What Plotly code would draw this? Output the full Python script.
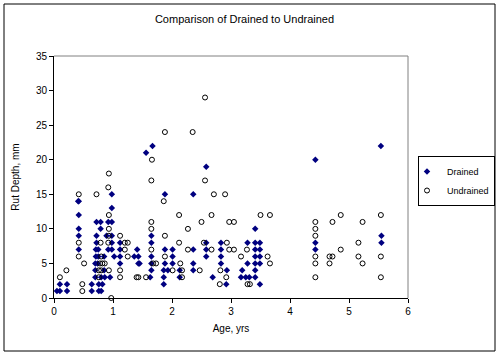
import plotly.graph_objects as go

# ---- data ----
drained_age = [0.05, 0.1, 0.1, 0.22, 0.22,
               0.42, 0.41, 0.42, 0.42, 0.42, 0.42,
               0.64, 0.64,
               0.70, 0.70, 0.70, 0.71, 0.71, 0.72, 0.72, 0.72,
               0.74, 0.75, 0.75, 0.76, 0.76, 0.79, 0.79,
               0.80, 0.80, 0.82, 0.85, 0.85, 0.86,
               0.89, 0.92, 0.92,
               0.98, 0.98, 0.98, 0.98, 0.98, 0.98, 0.95,
               1.02,
               1.12, 1.12, 1.12, 1.12,
               1.36, 1.41, 1.43, 1.43, 1.45,
               1.56, 1.67,
               1.63, 1.65, 1.65, 1.65, 1.65, 1.65,
               1.86, 1.86, 1.86, 1.88, 1.88, 1.88, 1.93,
               2.01, 2.01, 2.01,
               2.13, 2.13,
               2.36, 2.36, 2.36, 2.36,
               2.58, 2.58, 2.58, 2.58,
               2.69,
               2.83, 2.83, 2.83, 2.83,
               2.92, 2.93,
               3.17, 3.19, 3.25, 3.28, 3.28, 3.31,
               3.41, 3.41, 3.41, 3.41, 3.41, 3.41, 3.41,
               3.49, 3.49, 3.49, 3.49, 3.49,
               4.43, 4.43, 4.43,
               5.54, 5.55, 5.55]
drained_rut = [1, 1, 2, 1, 2,
               14, 14, 12, 10, 9, 7,
               1, 2,
               3, 4, 5, 6, 7, 8, 9, 11,
               5, 6, 7, 1, 2, 10, 11,
               3, 1, 2, 4, 6, 3,
               9, 7, 11,
               15, 13, 11, 9, 8, 7, 3,
               6,
               8, 7, 6, 5,
               6, 7, 6, 5, 5,
               21, 22,
               3, 4, 5, 6, 8, 9,
               2, 3, 4, 5, 7, 15, 4,
               5, 6, 7,
               3, 4,
               15, 4, 5, 7,
               19, 6, 7, 8,
               3,
               5, 6, 7, 8,
               2, 4,
               3, 4, 3, 5, 8, 3,
               3, 4, 5, 6, 7, 8, 10,
               2, 5, 6, 7, 8,
               20, 8, 7,
               22, 9, 8]

undrained_age = [0.1, 0.21, 0.42, 0.42, 0.42, 0.48, 0.48, 0.51,
                 0.72, 0.76, 0.76, 0.78, 0.79, 0.80, 0.80, 0.82, 0.86,
                 0.92, 0.93, 0.93, 0.93, 0.93, 0.92, 0.93, 0.97,
                 1.12, 1.20, 1.25, 1.20, 1.25, 1.12, 1.12,
                 1.40, 1.43, 1.56,
                 1.66, 1.65, 1.65, 1.65, 1.65, 1.68, 1.73,
                 1.86, 1.88, 1.88, 1.88,
                 2.12, 2.12, 2.14, 2.01, 2.17, 2.17,
                 2.27, 2.27, 2.35, 2.47, 2.50, 2.54,
                 2.56, 2.56, 2.67, 2.67, 2.71,
                 2.81, 2.82, 2.90, 2.92, 2.93, 2.97, 2.97, 3.05, 3.05,
                 3.17, 3.27, 3.28, 3.32, 3.50, 3.62, 3.66, 3.66,
                 4.43, 4.43, 4.43, 4.43, 4.43, 4.43, 4.67, 4.72, 4.67, 4.72,
                 4.86, 4.86, 5.16, 5.16, 5.23, 5.23, 5.54, 5.54, 5.54]
undrained_rut = [3, 4, 15, 8, 6, 1, 2, 5,
                 15, 3, 4, 5, 8, 4, 6, 5, 5,
                 16, 18, 12, 10, 9, 8, 4, 0,
                 9, 8, 8, 7, 6, 4, 3,
                 3, 3, 3,
                 20, 17, 11, 10, 7, 5, 5,
                 14, 24, 9, 6,
                 12, 8, 5, 4, 4, 3,
                 10, 7, 24, 4, 11, 8,
                 29, 17, 12, 7, 15,
                 2, 4, 15, 3, 8, 11, 7, 11, 7,
                 6, 7, 2, 2, 12, 6, 12, 5,
                 11, 10, 9, 6, 5, 3, 6, 6, 5, 11,
                 12, 7, 8, 6, 11, 5, 12, 6, 3]

x_ticks = [0, 1, 2, 3, 4, 5, 6]
y_ticks = [0, 5, 10, 15, 20, 25, 30, 35]

FONT = "Liberation Sans, Arial, sans-serif"

fig = go.Figure()
fig.add_trace(go.Scatter(
    x=drained_age, y=drained_rut, mode="markers", name="Drained",
    marker=dict(symbol="diamond", size=5, color="#000080",
                line=dict(width=0)),
    cliponaxis=False,
))
fig.add_trace(go.Scatter(
    x=undrained_age, y=undrained_rut, mode="markers", name="Undrained",
    marker=dict(symbol="circle-open", size=5, color="#000000",
                line=dict(width=1, color="#000000")),
    cliponaxis=False,
))

L, R, T, B = 54, 408, 56, 298
W, H = 499, 355


def px(xp):
    return (xp - L) / (R - L)


def py(yp):
    return (B - yp) / (B - T)


fig.update_layout(
    width=W, height=H,
    margin=dict(l=L, r=W - R, t=T, b=H - B, autoexpand=False),
    paper_bgcolor="white", plot_bgcolor="white",
    font=dict(family=FONT, size=10, color="black"),
    title=dict(text="Comparison of Drained to Undrained",
               x=0.49, xanchor="center", y=1 - 19 / H, yanchor="middle",
               font=dict(family=FONT, size=11, color="black")),
    showlegend=True,
    legend=dict(x=px(418), y=py(156), xanchor="left", yanchor="top",
                bordercolor="black", borderwidth=1, bgcolor="white",
                font=dict(family=FONT, size=9, color="black"),
                itemwidth=30, tracegroupgap=0, indentation=-12),
    xaxis=dict(range=[0, 6], tickvals=x_ticks, ticktext=[str(v) for v in x_ticks],
               showgrid=False, zeroline=False, showline=True,
               linecolor="black", linewidth=1, ticks="outside",
               ticklen=4, tickcolor="black", mirror=False,
               title=dict(text="Age, yrs", standoff=8,
                          font=dict(family=FONT, size=10))),
    yaxis=dict(range=[0, 35], tickvals=y_ticks, ticktext=[str(v) for v in y_ticks],
               showgrid=False, zeroline=False, showline=True,
               linecolor="black", linewidth=1, ticks="outside",
               ticklen=4, tickcolor="black",
               title=dict(text="Rut Depth, mm", standoff=14,
                          font=dict(family=FONT, size=10))),
    shapes=[
        # gray plot-area border (top and right)
        dict(type="line", xref="paper", yref="paper", x0=0, y0=1, x1=1, y1=1,
             line=dict(color="#808080", width=1)),
        dict(type="line", xref="paper", yref="paper", x0=1, y0=0, x1=1, y1=1,
             line=dict(color="#808080", width=1)),
        # outer chart border
        dict(type="rect", xref="paper", yref="paper",
             x0=px(4), y0=py(351), x1=px(495), y1=py(4),
             line=dict(color="black", width=1), fillcolor="rgba(0,0,0,0)",
             layer="below"),
    ],
)

fig.write_html("out.html")
